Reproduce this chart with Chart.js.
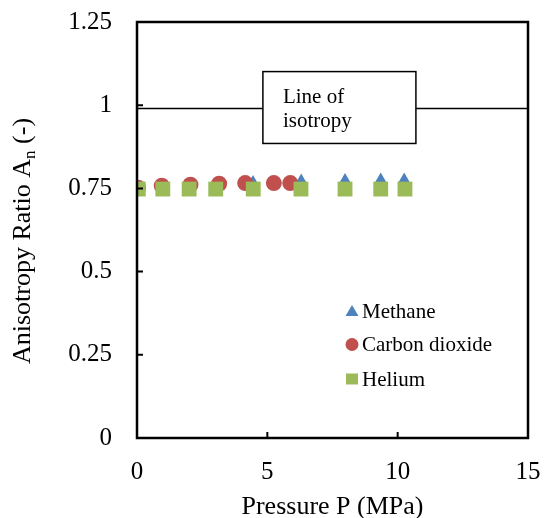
<!DOCTYPE html>
<html>
  <head>
    <script src="https://cdn.jsdelivr.net/npm/chart.js"></script>
    <style>
      body { margin: 0; background: #fff; }
    </style>
  </head>
  <body>
    <canvas id="Chart" width="544" height="518"></canvas>
    <script>
      // pressures (MPa) and anisotropy ratio
      const methaneP = [0.05, 1.0, 2.0, 3.0, 4.45, 6.3, 7.98, 9.35, 10.25];
      const methaneA = [0.748, 0.75, 0.752, 0.755, 0.768, 0.772, 0.774, 0.775, 0.775];
      const co2P = [0.04, 0.95, 2.05, 3.15, 4.15, 5.25, 5.88];
      const co2A = [0.752, 0.758, 0.761, 0.764, 0.766, 0.766, 0.766];
      const heliumP = [0.05, 0.99, 2.0, 3.02, 4.46, 6.29, 7.98, 9.35, 10.28];
      const heliumA = [0.748, 0.748, 0.748, 0.748, 0.748, 0.748, 0.748, 0.748, 0.748];
      const isotropyP = [0, 15];
      const isotropyA = [0.99, 0.99];

      const xTicks = [0, 5, 10, 15];
      const yTicks = [0, 0.25, 0.5, 0.75, 1, 1.25];

      const serif = "'Liberation Serif', 'Times New Roman', serif";
      Chart.defaults.color = "#000";
      Chart.defaults.font.family = serif;

      const toPoints = (xs, ys) => xs.map((x, i) => ({ x: x, y: ys[i] }));

      // frame, inside ticks, titles, text box and legend
      const decorations = {
        id: "decorations",
        afterDatasetsDraw(chart) {
          const ctx = chart.ctx;
          const a = chart.chartArea;
          const xs = chart.scales.x;
          const ys = chart.scales.y;
          ctx.save();

          // label box over the isotropy line
          const bx0 = xs.getPixelForValue(4.83), bx1 = xs.getPixelForValue(10.7);
          const by0 = ys.getPixelForValue(1.101), by1 = ys.getPixelForValue(0.885);
          ctx.fillStyle = "#fff";
          ctx.fillRect(bx0, by0, bx1 - bx0, by1 - by0);
          ctx.strokeStyle = "#000";
          ctx.lineWidth = 1.5;
          ctx.strokeRect(bx0, by0, bx1 - bx0, by1 - by0);
          ctx.fillStyle = "#000";
          ctx.font = "21px " + serif;
          ctx.textAlign = "left";
          ctx.textBaseline = "alphabetic";
          ctx.fillText("Line of", bx0 + 20, by0 + 31);
          ctx.fillText("isotropy", bx0 + 20, by0 + 55);

          // plot frame
          ctx.lineWidth = 2.5;
          ctx.strokeRect(a.left, a.top, a.right - a.left, a.bottom - a.top);

          // inward ticks
          ctx.lineWidth = 2;
          ctx.beginPath();
          for (const v of yTicks) {
            const py = ys.getPixelForValue(v);
            ctx.moveTo(a.left, py);
            ctx.lineTo(a.left + 6, py);
          }
          for (const v of xTicks) {
            const px = xs.getPixelForValue(v);
            ctx.moveTo(px, a.bottom);
            ctx.lineTo(px, a.bottom - 6);
          }
          ctx.stroke();

          // x title
          ctx.font = "26px " + serif;
          ctx.textAlign = "center";
          ctx.fillText("Pressure P (MPa)", (a.left + a.right) / 2, 514);

          // y title with subscript
          ctx.translate(30, 241);
          ctx.rotate(-Math.PI / 2);
          const p1 = "Anisotropy Ratio A", p2 = "n", p3 = " (-)";
          ctx.font = "26px " + serif;
          const w1 = ctx.measureText(p1).width;
          const w3 = ctx.measureText(p3).width;
          ctx.font = "17px " + serif;
          const w2 = ctx.measureText(p2).width;
          let x0 = -(w1 + w2 + w3) / 2;
          ctx.textAlign = "left";
          ctx.font = "26px " + serif;
          ctx.fillText(p1, x0, 0);
          ctx.font = "17px " + serif;
          ctx.fillText(p2, x0 + w1, 5);
          ctx.font = "26px " + serif;
          ctx.fillText(p3, x0 + w1 + w2, 0);
          ctx.restore();

          // legend inside the plot
          ctx.save();
          const items = [
            { text: "Methane", color: "#4F81BD", shape: "triangle", y: 311 },
            { text: "Carbon dioxide", color: "#C0504D", shape: "circle", y: 344.5 },
            { text: "Helium", color: "#9BBB59", shape: "rect", y: 379 },
          ];
          ctx.font = "21px " + serif;
          ctx.textAlign = "left";
          ctx.textBaseline = "middle";
          for (const it of items) {
            const cx = 352;
            ctx.fillStyle = it.color;
            ctx.beginPath();
            if (it.shape === "triangle") {
              ctx.moveTo(cx, it.y - 6);
              ctx.lineTo(cx + 6.5, it.y + 5);
              ctx.lineTo(cx - 6.5, it.y + 5);
              ctx.closePath();
            } else if (it.shape === "circle") {
              ctx.arc(cx, it.y, 6.5, 0, Math.PI * 2);
            } else {
              ctx.rect(cx - 6, it.y - 5.5, 12, 11);
            }
            ctx.fill();
            ctx.fillStyle = "#000";
            ctx.fillText(it.text, 362, it.y + 1);
          }
          ctx.restore();
        },
      };

      new Chart(document.getElementById("Chart"), {
        type: "scatter",
        data: {
          datasets: [
            {
              label: "Helium",
              data: toPoints(heliumP, heliumA),
              pointStyle: "rect",
              pointRadius: 10.5,
              backgroundColor: "#9BBB59",
              borderColor: "#9BBB59",
              borderWidth: 0,
              order: 1,
            },
            {
              label: "Carbon dioxide",
              data: toPoints(co2P, co2A),
              pointStyle: "circle",
              pointRadius: 8,
              backgroundColor: "#C0504D",
              borderColor: "#C0504D",
              borderWidth: 0,
              order: 2,
            },
            {
              label: "Methane",
              data: toPoints(methaneP, methaneA),
              pointStyle: "triangle",
              pointRadius: 7.5,
              backgroundColor: "#4F81BD",
              borderColor: "#4F81BD",
              borderWidth: 0,
              order: 3,
            },
            {
              label: "Line of isotropy",
              data: toPoints(isotropyP, isotropyA),
              showLine: true,
              borderColor: "#000",
              borderWidth: 1.5,
              pointRadius: 0,
              order: 4,
            },
          ],
        },
        options: {
          responsive: false,
          animation: false,
          layout: { padding: { top: 22, right: 16, left: 0, bottom: 0 } },
          plugins: {
            legend: { display: false },
            tooltip: { enabled: false },
          },
          scales: {
            x: {
              type: "linear",
              min: 0,
              max: 15,
              afterBuildTicks: (s) => { s.ticks = xTicks.map((v) => ({ value: v })); },
              grid: { display: false },
              border: { display: false },
              ticks: { font: { size: 25 }, padding: 11, callback: (v) => String(v) },
              afterFit: (s) => {
                s.height = 80;
                s.paddingLeft = 0;
                s.paddingRight = 0;
              },
            },
            y: {
              min: 0,
              max: 1.25,
              afterBuildTicks: (s) => { s.ticks = yTicks.map((v) => ({ value: v })); },
              grid: { display: false },
              border: { display: false },
              ticks: { font: { size: 25 }, padding: 17, callback: (v) => String(v) },
              afterFit: (s) => {
                s.width = 137;
                s.paddingTop = 0;
                s.paddingBottom = 0;
              },
            },
          },
        },
        plugins: [decorations],
      });
    </script>
  </body>
</html>
